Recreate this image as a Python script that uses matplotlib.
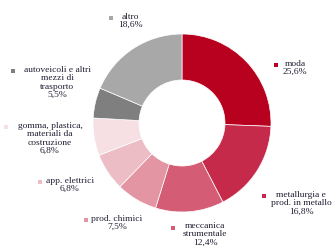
import matplotlib.pyplot as plt

# ==========================
# DATA
# ==========================

sectors = [
    "moda",
    "metallurgia e\nprod. in metallo",
    "meccanica\nstrumentale",
    "prod. chimici",
    "app. elettrici",
    "gomma, plastica,\nmateriali da\ncostruzione",
    "autoveicoli e altri\nmezzi di\ntrasporto",
    "altro",
]
shares = [25.6, 16.8, 12.4, 7.5, 6.8, 6.8, 5.5, 18.6]
share_labels = ["25,6%", "16,8%", "12,4%", "7,5%", "6,8%", "6,8%", "5,5%", "18,6%"]

colors = [
    "#B8001F",
    "#C52A4B",
    "#D45C74",
    "#E395A3",
    "#EDBDC5",
    "#F6E0E4",
    "#7F7F7F",
    "#A8A8A8",
]

# label placement in pixel coords (top line center, marker)
text_pos = [
    (295, 60), (301, 191), (205, 222), (117, 215),
    (70, 177), (50, 122), (57, 66), (130, 13),
]
marker_pos = [
    (276, 66), (264, 197), (173, 229), (86, 221),
    (40, 183), (6, 128), (13, 72), (111, 19),
]

# ==========================
# FIGURE
# ==========================

W, H = 333, 253
fig = plt.figure(figsize=(W / 100, H / 100), dpi=100)
ax = fig.add_axes([0, 0, 1, 1])

ax.pie(
    shares,
    colors=colors,
    startangle=90,
    counterclock=False,
    center=(182, H - 124),
    radius=89,
    wedgeprops=dict(width=46, edgecolor="white", linewidth=0.5),
)

ax.set_xlim(0, W)
ax.set_ylim(0, H)
ax.set_aspect("equal")
ax.axis("off")

for i, name in enumerate(sectors):
    tx, ty = text_pos[i]
    mx, my = marker_pos[i]
    ax.text(
        tx, H - ty, name + "\n" + share_labels[i],
        ha="center", va="top",
        multialignment="center",
        fontsize=6.8, family="Liberation Serif",
        color="#1f1f33", linespacing=1.05,
    )
    ax.plot(mx, H - my, marker="s", markersize=3.2, color=colors[i],
            markeredgewidth=0)

plt.savefig("out.png", dpi=100)
